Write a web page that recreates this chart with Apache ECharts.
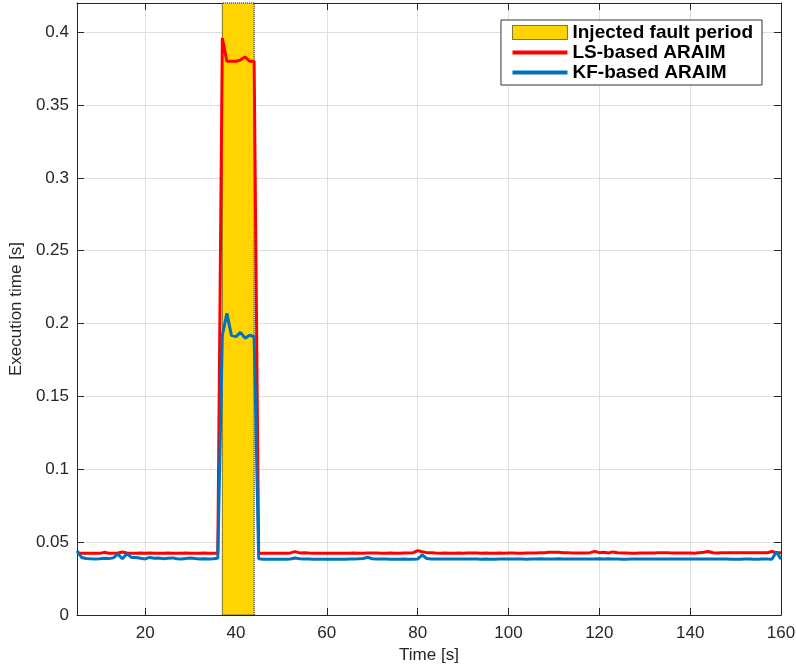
<!DOCTYPE html>
<html>
<head>
<meta charset="utf-8">
<script src="https://cdn.jsdelivr.net/npm/echarts@6/dist/echarts.min.js"></script>
<style>html,body{margin:0;padding:0;background:#fff}#chart{width:796px;height:666px}</style>
</head>
<body>
<div id="chart"></div>
<script>
var times = [
5,6,7,8,9,10,11,12,13,14,15,16,17,18,19,20,21,22,23,24,25,26,27,28,29,30,31,32,33,34,35,36,
37,38,39,40,41,42,43,44,
45,46,47,48,49,50,51,52,53,54,55,56,57,58,59,60,61,62,63,64,65,66,67,68,69,70,71,72,73,74,
75,76,77,78,79,80,81,82,83,84,85,86,87,88,89,90,91,92,93,94,95,96,97,98,99,100,101,102,103,104,
105,106,107,108,109,110,111,112,113,114,115,116,117,118,119,120,121,122,123,124,125,126,127,128,129,130,
131,132,133,134,135,136,137,138,139,140,141,142,143,144,145,146,147,148,149,150,151,152,153,154,155,156,157,158,159,160
];
var lsTime = [
0.0425,0.0424,0.0423,0.0423,0.0424,0.0423,0.0430,0.0424,0.0423,0.0425,0.0432,0.0425,0.0424,0.0423,0.0425,0.0424,
0.0426,0.0424,0.0423,0.0424,0.0425,0.0424,0.0423,0.0424,0.0425,0.0424,0.0423,0.0424,0.0425,0.0424,0.0423,0.0424,
0.396,0.380,0.380,0.380,0.381,0.383,0.380,0.380,
0.0422,0.0423,0.0423,0.0424,0.0423,0.0424,0.0424,0.0426,0.0435,0.0426,
0.0427,0.0425,0.0424,0.0424,0.0423,0.0423,0.0424,0.0424,0.0423,0.0424,
0.0424,0.0425,0.0424,0.0424,0.0425,0.0426,0.0425,0.0424,0.0424,0.0425,
0.0424,0.0424,0.0425,0.0425,0.0427,0.0442,0.0434,0.0428,0.0427,0.0425,
0.0424,0.0425,0.0424,0.0424,0.0425,0.0424,0.0425,0.0426,0.0425,0.0424,
0.0425,0.0424,0.0424,0.0425,0.0424,0.0425,0.0425,0.0424,0.0424,0.0425,
0.0425,0.0426,0.0427,0.0428,0.0430,0.0431,0.0430,0.0428,0.0427,0.0426,
0.0425,0.0425,0.0426,0.0428,0.0437,0.0428,0.0430,0.0426,0.0433,0.0427,
0.0426,0.0425,0.0424,0.0424,0.0425,0.0425,0.0426,0.0426,0.0427,0.0428,
0.0427,0.0426,0.0426,0.0425,0.0425,0.0426,0.0424,0.0428,0.0430,0.0436,
0.0427,0.0426,0.0427,0.0427,0.0428,0.0427,0.0427,0.0428,0.0427,0.0427,
0.0428,0.0427,0.0427,0.0436,0.0428,0.0427
];
var kfTime = [
0.0440,0.0395,0.0388,0.0386,0.0385,0.0386,0.0390,0.0387,0.0392,0.0418,0.0386,0.0420,0.0395,0.0394,0.0390,0.0385,
0.0395,0.0390,0.0391,0.0386,0.0390,0.0392,0.0386,0.0385,0.0388,0.0391,0.0387,0.0385,0.0386,0.0385,0.0386,0.0389,
0.192,0.207,0.192,0.191,0.194,0.190,0.192,0.191,
0.0386,0.0383,0.0382,0.0382,0.0383,0.0382,0.0383,0.0384,0.0391,0.0386,
0.0385,0.0384,0.0383,0.0382,0.0382,0.0383,0.0383,0.0382,0.0382,0.0383,
0.0384,0.0385,0.0386,0.0388,0.0396,0.0386,0.0385,0.0384,0.0384,0.0383,
0.0383,0.0383,0.0384,0.0383,0.0383,0.0384,0.0412,0.0388,0.0385,0.0384,
0.0384,0.0385,0.0385,0.0384,0.0384,0.0384,0.0385,0.0384,0.0384,0.0383,
0.0384,0.0383,0.0383,0.0384,0.0385,0.0384,0.0384,0.0385,0.0384,0.0383,
0.0384,0.0385,0.0386,0.0385,0.0384,0.0384,0.0386,0.0385,0.0384,0.0384,
0.0385,0.0384,0.0384,0.0385,0.0385,0.0386,0.0385,0.0386,0.0384,0.0384,
0.0383,0.0383,0.0384,0.0385,0.0384,0.0384,0.0385,0.0384,0.0385,0.0385,
0.0384,0.0384,0.0385,0.0384,0.0384,0.0385,0.0384,0.0385,0.0385,0.0384,
0.0384,0.0385,0.0384,0.0384,0.0383,0.0382,0.0383,0.0384,0.0384,0.0383,
0.0383,0.0384,0.0384,0.0383,0.0434,0.0382
];
var faultPeriod = [37, 44];
var xTicks = [20, 40, 60, 80, 100, 120, 140, 160];
var yTicks = [0, 0.05, 0.1, 0.15, 0.2, 0.25, 0.3, 0.35, 0.4];
var xRange = [5, 160];
var yRange = [0, 0.42];
var seriesNames = ['Injected fault period', 'LS-based ARAIM', 'KF-based ARAIM'];

function pairs(ts, vs) { return ts.map(function (t, i) { return [t, vs[i]]; }); }

var FONT = 'Liberation Sans';
var axisCol = '#262626';
var chart = echarts.init(document.getElementById('chart'), null, { renderer: 'canvas' });
var tickLen = 7;
var lineIcon = 'path://M0,0L55,0L55,4L0,4Z';

function xAx(main) {
  return {
    type: 'value', min: xRange[0], max: xRange[1], position: main ? 'bottom' : 'top',
    name: main ? 'Time [s]' : '', nameLocation: 'middle', nameGap: 31,
    nameTextStyle: { fontFamily: FONT, fontSize: 17, color: axisCol },
    axisLine: { show: true, onZero: false, lineStyle: { color: axisCol, width: 1 } },
    axisTick: { show: true, inside: true, length: tickLen, customValues: xTicks, lineStyle: { color: axisCol } },
    axisLabel: { show: main, customValues: xTicks, fontFamily: FONT, fontSize: 17, color: axisCol, margin: 10 },
    splitLine: { show: main, lineStyle: { color: '#dfdfdf', width: 1 } }
  };
}
function yAx(main) {
  return {
    type: 'value', min: yRange[0], max: yRange[1], position: main ? 'left' : 'right',
    name: main ? 'Execution time [s]' : '', nameLocation: 'middle', nameGap: 48,
    nameTextStyle: { fontFamily: FONT, fontSize: 17, color: axisCol },
    axisLine: { show: true, onZero: false, lineStyle: { color: axisCol, width: 1 } },
    axisTick: { show: true, inside: true, length: tickLen, customValues: yTicks, lineStyle: { color: axisCol } },
    axisLabel: { show: main, customValues: yTicks, fontFamily: FONT, fontSize: 17, color: axisCol, margin: 8 },
    splitLine: { show: main, lineStyle: { color: '#dfdfdf', width: 1 } }
  };
}

var option = {
  animation: false,
  backgroundColor: '#fff',
  grid: { left: 77, right: 15, top: 3, bottom: 51, containLabel: false, outerBoundsMode: 'none' },
  xAxis: [xAx(true), xAx(false)],
  yAxis: [yAx(true), yAx(false)],
  legend: {
    orient: 'vertical', right: 34, top: 20, symbolKeepAspect: true,
    backgroundColor: '#fff', borderColor: '#333', borderWidth: 1,
    padding: [3, 9, 3, 11], itemGap: 1, itemWidth: 55, itemHeight: 14,
    textStyle: { fontFamily: FONT, fontSize: 19, lineHeight: 19, fontWeight: 'bold', color: '#000' },
    data: [
      { name: seriesNames[0], icon: 'rect', itemStyle: { color: '#FFD400', borderColor: '#000', borderType: 'dotted', borderWidth: 1 } },
      { name: seriesNames[1], icon: lineIcon, itemStyle: { color: '#FF0000', borderWidth: 0 } },
      { name: seriesNames[2], icon: lineIcon, itemStyle: { color: '#0072BD', borderWidth: 0 } }
    ]
  },
  series: [
    {
      name: seriesNames[0], type: 'line', data: [], symbol: 'none', color: '#FFD400',
      itemStyle: { color: '#FFD400' },
      markArea: {
        silent: true,
        itemStyle: { color: '#FFD400', borderColor: '#000', borderType: 'dotted', borderWidth: 1 },
        data: [[{ xAxis: faultPeriod[0], yAxis: yRange[0] }, { xAxis: faultPeriod[1], yAxis: yRange[1] }]]
      }
    },
    {
      name: seriesNames[1], type: 'line', data: pairs(times, lsTime), symbol: 'none',
      color: '#FF0000', lineStyle: { color: '#FF0000', width: 3 }, z: 3
    },
    {
      name: seriesNames[2], type: 'line', data: pairs(times, kfTime), symbol: 'none',
      color: '#0072BD', lineStyle: { color: '#0072BD', width: 3 }, z: 4
    }
  ]
};
chart.setOption(option);
</script>
</body>
</html>
